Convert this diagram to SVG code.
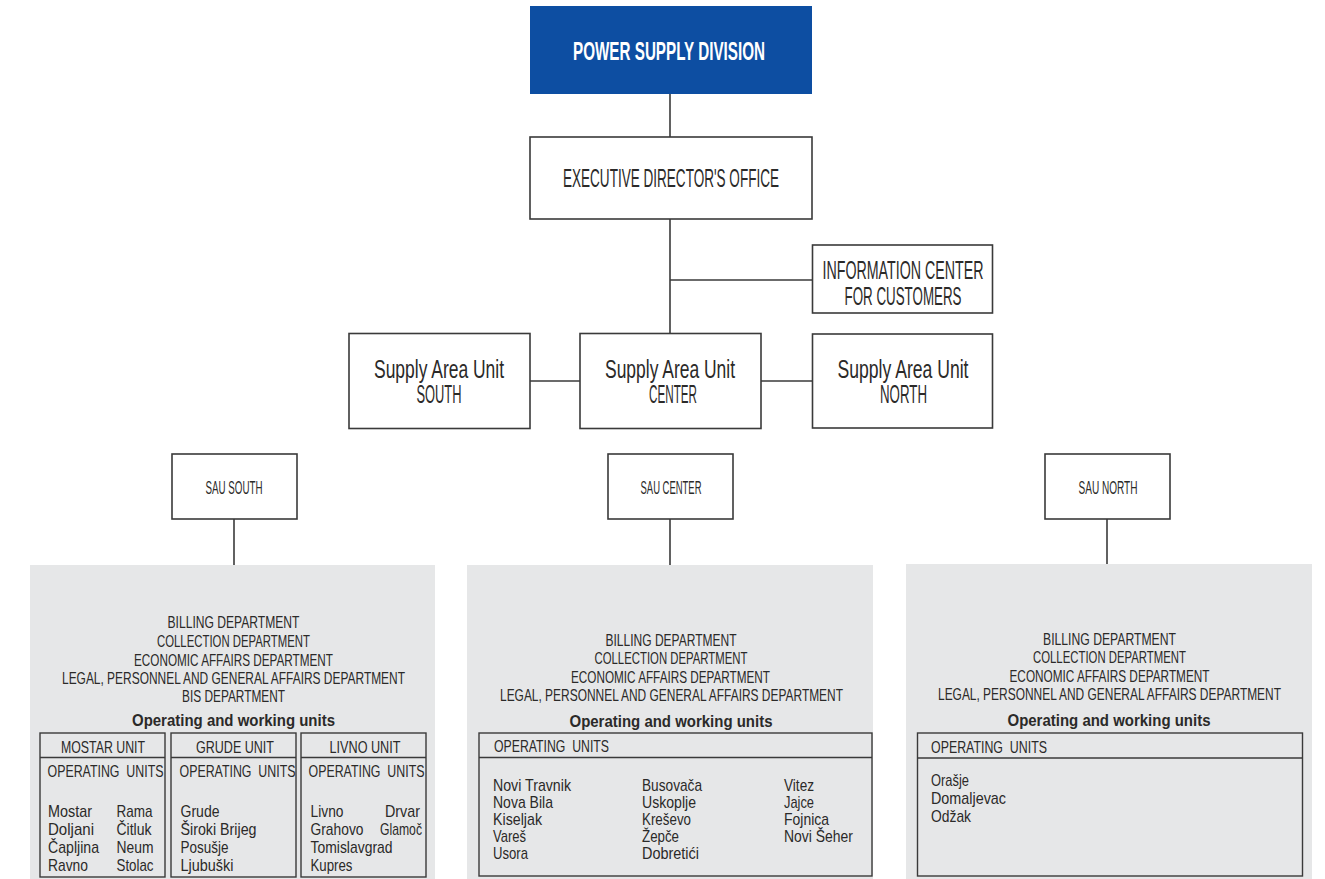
<svg xmlns="http://www.w3.org/2000/svg" width="1325" height="879" viewBox="0 0 1325 879">
<style>
text{font-family:"Liberation Sans Narrow","Liberation Sans",Arial,sans-serif;fill:#2b2a29;font-size:17px;white-space:pre}
.big{font-size:25px}
.ttl{font-size:25px;font-weight:bold;fill:#ffffff}
.sm{font-size:18px}
.b{font-weight:bold}
.c{text-anchor:middle}
.box{fill:#ffffff;stroke:#3a3a3a;stroke-width:1.6}
.sub{fill:none;stroke:#3a3a3a;stroke-width:1.4}
.panel{fill:#e6e7e8}
.ln{stroke:#3a3a3a;stroke-width:1.6;fill:none}
</style>
<rect width="1325" height="879" fill="#ffffff"/>
<g id="connectors">
<line class="ln" x1="670" y1="94" x2="670" y2="137"/>
<line class="ln" x1="670" y1="219" x2="670" y2="334"/>
<line class="ln" x1="670" y1="280" x2="812" y2="280"/>
<line class="ln" x1="530" y1="381" x2="580" y2="381"/>
<line class="ln" x1="761" y1="381" x2="812" y2="381"/>
<line class="ln" x1="234" y1="519" x2="234" y2="565"/>
<line class="ln" x1="670" y1="519" x2="670" y2="565"/>
<line class="ln" x1="1107" y1="519" x2="1107" y2="564"/>
</g>
<g id="power-supply-division">
<rect x="530" y="6" width="282" height="88" fill="#0d4ea2"/>
<text class="ttl c" x="669" y="60" textLength="192" lengthAdjust="spacingAndGlyphs">POWER SUPPLY DIVISION</text>
</g>
<g id="executive-office">
<rect class="box" x="530" y="137" width="282" height="82"/>
<text class="big c" x="671" y="187" textLength="216" lengthAdjust="spacingAndGlyphs">EXECUTIVE DIRECTOR'S OFFICE</text>
</g>
<g id="information-center">
<rect class="box" x="812.5" y="245" width="180" height="68"/>
<text class="big c" x="903" y="279" textLength="161" lengthAdjust="spacingAndGlyphs">INFORMATION CENTER</text>
<text class="big c" x="903" y="305" textLength="117" lengthAdjust="spacingAndGlyphs">FOR CUSTOMERS</text>
</g>
<g id="sau-south-main">
<rect class="box" x="349" y="333.5" width="181" height="95"/>
<text class="big c" x="439" y="378" textLength="130" lengthAdjust="spacingAndGlyphs">Supply Area Unit</text>
<text class="big c" x="439" y="403" textLength="45" lengthAdjust="spacingAndGlyphs">SOUTH</text>
</g>
<g id="sau-center-main">
<rect class="box" x="580" y="333.5" width="181" height="95"/>
<text class="big c" x="670" y="378" textLength="130" lengthAdjust="spacingAndGlyphs">Supply Area Unit</text>
<text class="big c" x="673" y="403" textLength="48" lengthAdjust="spacingAndGlyphs">CENTER</text>
</g>
<g id="sau-north-main">
<rect class="box" x="812.5" y="334" width="180" height="94"/>
<text class="big c" x="903" y="378" textLength="131" lengthAdjust="spacingAndGlyphs">Supply Area Unit</text>
<text class="big c" x="903.5" y="403" textLength="47" lengthAdjust="spacingAndGlyphs">NORTH</text>
</g>
<g id="sau-south">
<rect class="box" x="172" y="454" width="125" height="65"/>
<text class="sm c" x="234" y="494" textLength="57" lengthAdjust="spacingAndGlyphs">SAU SOUTH</text>
</g>
<g id="sau-center">
<rect class="box" x="608" y="454" width="125" height="65"/>
<text class="sm c" x="671" y="494" textLength="61" lengthAdjust="spacingAndGlyphs">SAU CENTER</text>
</g>
<g id="sau-north">
<rect class="box" x="1045" y="454" width="125" height="65"/>
<text class="sm c" x="1108" y="494" textLength="59" lengthAdjust="spacingAndGlyphs">SAU NORTH</text>
</g>
<g id="panel-south">
<rect class="panel" x="30" y="565" width="405" height="314"/>
<text class="c" x="233.5" y="628" textLength="132" lengthAdjust="spacingAndGlyphs">BILLING DEPARTMENT</text>
<text class="c" x="233.5" y="647" textLength="153" lengthAdjust="spacingAndGlyphs">COLLECTION DEPARTMENT</text>
<text class="c" x="233.5" y="666" textLength="199" lengthAdjust="spacingAndGlyphs">ECONOMIC AFFAIRS DEPARTMENT</text>
<text class="c" x="233.5" y="684" textLength="343" lengthAdjust="spacingAndGlyphs">LEGAL, PERSONNEL AND GENERAL AFFAIRS DEPARTMENT</text>
<text class="c" x="233.5" y="702" textLength="103" lengthAdjust="spacingAndGlyphs">BIS DEPARTMENT</text>
<text class="c b" x="233.5" y="726" textLength="203" lengthAdjust="spacingAndGlyphs">Operating and working units</text>
<rect class="sub" x="40" y="733" width="125" height="144"/>
<line class="sub" x1="40" y1="757.5" x2="165" y2="757.5"/>
<rect class="sub" x="171" y="733" width="125" height="144"/>
<line class="sub" x1="171" y1="757.5" x2="296" y2="757.5"/>
<rect class="sub" x="301" y="733" width="125" height="144"/>
<line class="sub" x1="301" y1="757.5" x2="426" y2="757.5"/>
<text class="c" x="103" y="753" textLength="84" lengthAdjust="spacingAndGlyphs">MOSTAR UNIT</text>
<text class="c" x="235" y="753" textLength="78" lengthAdjust="spacingAndGlyphs">GRUDE UNIT</text>
<text class="c" x="365" y="753" textLength="71" lengthAdjust="spacingAndGlyphs">LIVNO UNIT</text>
<text x="47.5" y="777" textLength="116" lengthAdjust="spacingAndGlyphs">OPERATING  UNITS</text>
<text x="179.5" y="777" textLength="116" lengthAdjust="spacingAndGlyphs">OPERATING  UNITS</text>
<text x="308.5" y="777" textLength="116" lengthAdjust="spacingAndGlyphs">OPERATING  UNITS</text>
<text x="48" y="817" textLength="44" lengthAdjust="spacingAndGlyphs">Mostar</text>
<text x="48" y="835" textLength="46" lengthAdjust="spacingAndGlyphs">Doljani</text>
<text x="48" y="853" textLength="51" lengthAdjust="spacingAndGlyphs">Čapljina</text>
<text x="48" y="871" textLength="40" lengthAdjust="spacingAndGlyphs">Ravno</text>
<text x="116.5" y="817" textLength="36" lengthAdjust="spacingAndGlyphs">Rama</text>
<text x="116.5" y="835" textLength="35" lengthAdjust="spacingAndGlyphs">Čitluk</text>
<text x="116.5" y="853" textLength="37" lengthAdjust="spacingAndGlyphs">Neum</text>
<text x="116.5" y="871" textLength="37" lengthAdjust="spacingAndGlyphs">Stolac</text>
<text x="180.5" y="817" textLength="39" lengthAdjust="spacingAndGlyphs">Grude</text>
<text x="180.5" y="835" textLength="76" lengthAdjust="spacingAndGlyphs">Široki Brijeg</text>
<text x="180.5" y="853" textLength="48" lengthAdjust="spacingAndGlyphs">Posušje</text>
<text x="180.5" y="871" textLength="53" lengthAdjust="spacingAndGlyphs">Ljubuški</text>
<text x="310.5" y="817" textLength="33" lengthAdjust="spacingAndGlyphs">Livno</text>
<text x="385" y="817" textLength="35" lengthAdjust="spacingAndGlyphs">Drvar</text>
<text x="310.5" y="835" textLength="53" lengthAdjust="spacingAndGlyphs">Grahovo</text>
<text x="380" y="835" textLength="42" lengthAdjust="spacingAndGlyphs">Glamoč</text>
<text x="310.5" y="853" textLength="82" lengthAdjust="spacingAndGlyphs">Tomislavgrad</text>
<text x="310.5" y="871" textLength="42" lengthAdjust="spacingAndGlyphs">Kupres</text>
</g>
<g id="panel-center">
<rect class="panel" x="467" y="565" width="406" height="314"/>
<text class="c" x="671" y="646" textLength="131" lengthAdjust="spacingAndGlyphs">BILLING DEPARTMENT</text>
<text class="c" x="671" y="664" textLength="153" lengthAdjust="spacingAndGlyphs">COLLECTION DEPARTMENT</text>
<text class="c" x="670.5" y="683" textLength="199" lengthAdjust="spacingAndGlyphs">ECONOMIC AFFAIRS DEPARTMENT</text>
<text class="c" x="671.5" y="701" textLength="343" lengthAdjust="spacingAndGlyphs">LEGAL, PERSONNEL AND GENERAL AFFAIRS DEPARTMENT</text>
<text class="c b" x="671" y="727" textLength="203" lengthAdjust="spacingAndGlyphs">Operating and working units</text>
<rect class="sub" x="479" y="733" width="393" height="143"/>
<line class="sub" x1="479" y1="757.5" x2="872" y2="757.5"/>
<text x="494" y="752" textLength="115" lengthAdjust="spacingAndGlyphs">OPERATING  UNITS</text>
<text x="493" y="791" textLength="78" lengthAdjust="spacingAndGlyphs">Novi Travnik</text>
<text x="493" y="808" textLength="60" lengthAdjust="spacingAndGlyphs">Nova Bila</text>
<text x="493" y="825" textLength="49" lengthAdjust="spacingAndGlyphs">Kiseljak</text>
<text x="493" y="842" textLength="33" lengthAdjust="spacingAndGlyphs">Vareš</text>
<text x="493" y="859" textLength="35" lengthAdjust="spacingAndGlyphs">Usora</text>
<text x="642" y="791" textLength="60" lengthAdjust="spacingAndGlyphs">Busovača</text>
<text x="642" y="808" textLength="54" lengthAdjust="spacingAndGlyphs">Uskoplje</text>
<text x="642" y="825" textLength="49" lengthAdjust="spacingAndGlyphs">Kreševo</text>
<text x="642" y="842" textLength="37" lengthAdjust="spacingAndGlyphs">Žepče</text>
<text x="642" y="859" textLength="57" lengthAdjust="spacingAndGlyphs">Dobretići</text>
<text x="784" y="791" textLength="30" lengthAdjust="spacingAndGlyphs">Vitez</text>
<text x="784" y="808" textLength="30" lengthAdjust="spacingAndGlyphs">Jajce</text>
<text x="784" y="825" textLength="45" lengthAdjust="spacingAndGlyphs">Fojnica</text>
<text x="784" y="842" textLength="69" lengthAdjust="spacingAndGlyphs">Novi Šeher</text>
</g>
<g id="panel-north">
<rect class="panel" x="906" y="564" width="406" height="315"/>
<text class="c" x="1109.5" y="645" textLength="133" lengthAdjust="spacingAndGlyphs">BILLING DEPARTMENT</text>
<text class="c" x="1109.5" y="663" textLength="153" lengthAdjust="spacingAndGlyphs">COLLECTION DEPARTMENT</text>
<text class="c" x="1109.5" y="682" textLength="200" lengthAdjust="spacingAndGlyphs">ECONOMIC AFFAIRS DEPARTMENT</text>
<text class="c" x="1109.5" y="700" textLength="343" lengthAdjust="spacingAndGlyphs">LEGAL, PERSONNEL AND GENERAL AFFAIRS DEPARTMENT</text>
<text class="c b" x="1109" y="726" textLength="203" lengthAdjust="spacingAndGlyphs">Operating and working units</text>
<rect class="sub" x="917.5" y="733" width="385" height="143"/>
<line class="sub" x1="917.5" y1="758" x2="1302.5" y2="758"/>
<text x="931" y="752.5" textLength="116" lengthAdjust="spacingAndGlyphs">OPERATING  UNITS</text>
<text x="931" y="786" textLength="38" lengthAdjust="spacingAndGlyphs">Orašje</text>
<text x="931" y="804" textLength="75" lengthAdjust="spacingAndGlyphs">Domaljevac</text>
<text x="931" y="822" textLength="40" lengthAdjust="spacingAndGlyphs">Odžak</text>
</g>
</svg>
